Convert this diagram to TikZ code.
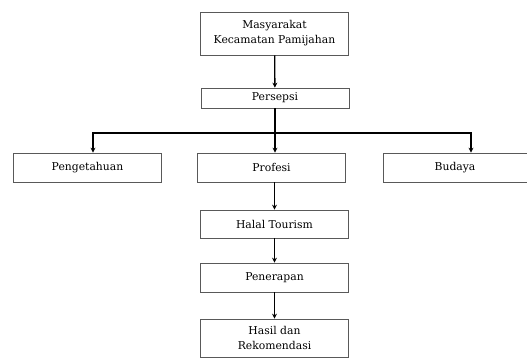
\documentclass[tikz,border=0pt]{standalone}
\usepackage{tikz}
\usepackage{fontspec}
\setmainfont{DejaVu Serif}
\usetikzlibrary{arrows.meta}

\begin{document}
\begin{tikzpicture}[x=1pt, y=-1pt,
	every node/.style={rectangle, draw=black!65, line width=0.7pt, fill=white, minimum width=148pt, font=\fontsize{10.8}{15}\selectfont, align=center, inner sep=1pt},
	arr/.style={line width=1.3pt, -{Stealth[length=5pt, width=5pt]}}]
			\useasboundingbox (0,0) rectangle (527,358);
			% Nodes
			\node[minimum height=43pt] (mas) at (274.5,33.5) {Masyarakat\\Kecamatan Pamijahan};
			\node[minimum height=20pt] (per) at (275,98) {Persepsi};
			\node[minimum height=29pt] (pen) at (87.5,167.5) {Pengetahuan};
			\node[minimum height=29pt] (pro) at (271.5,167.5) {Profesi};
			\node[minimum height=29pt, minimum width=144pt] (bud) at (455,167.5) {Budaya};
			\node[minimum height=28pt] (hal) at (274.5,224) {Halal Tourism};
			\node[minimum height=29pt] (ter) at (274.5,277.5) {Penerapan};
			\node[minimum height=38pt] (has) at (274.5,338) {Hasil dan\\Rekomendasi};
			% Edges
			\draw[arr] (mas) -- (per);
			\draw[line width=1.3pt] (per.south) -- (275,133) coordinate (split);
			\draw[arr] (split) -| ([xshift=5.5pt]pen.north);
			\draw[arr] (split) -| ([xshift=16pt]bud.north);
			\draw[arr] (split) -- (pro.north -| split);
			\draw[arr] (pro.south -| hal) -- (hal);
			\draw[arr] (hal) -- (ter);
			\draw[arr] (ter) -- (has);
		\end{tikzpicture}
\end{document}
